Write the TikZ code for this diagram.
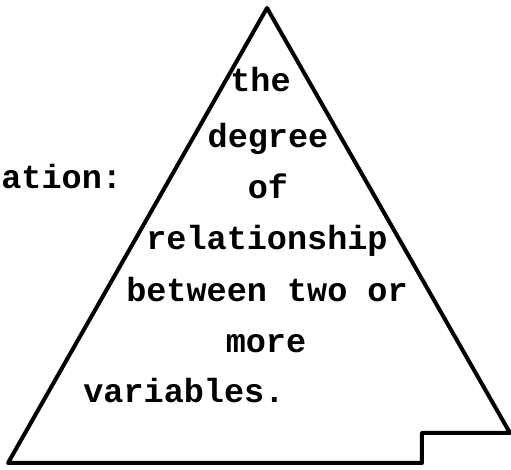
\documentclass[tikz,border=0pt]{standalone}
\usepackage{fontspec}
\setmonofont{Liberation Mono}
\begin{document}
\begin{tikzpicture}
% pyramid sketch, measured in pixels of the scan
\def\pxsz{0.5pt}
\providecommand{\pyrLineWidth}{2pt}
\providecommand{\pyrFont}{\fontsize{16.75}{20}\ttfamily\bfseries}
\begin{scope}[x=\pxsz, y=\pxsz, line cap=round, line join=round]
  \useasboundingbox (0,0) rectangle (511,470);
  % Corners of the outline
  \coordinate (apex) at (267,462);
  \coordinate (botleft) at (8,7);
  \coordinate (notchbot) at (422,7);
  \coordinate (notchtop) at (422,37);
  \coordinate (botright) at (510,37);
  % Outline
  \draw[line width=\pyrLineWidth] (botleft) -- (apex) -- (botright) -- (notchtop) -- (notchbot) -- cycle;
  % Texts
  \begin{scope}[every node/.style={font=\pyrFont, inner sep=0pt}]
    \node[anchor=base west] (lead) at (1,281) {ation:};
    \node[anchor=base west] (l1) at (230,378) {the};
    \node[anchor=base] (l2) at (268,322) {degree};
    \node[anchor=base] (l3) at (268,271) {of};
    \node[anchor=base] (l4) at (267,220) {relationship};
    \node[anchor=base] (l5) at (267,168) {between two or};
    \node[anchor=base] (l6) at (266,117) {more};
    \node[anchor=base west] (l7) at (83,67) {variables.};
  \end{scope}
\end{scope}
\end{tikzpicture}
\end{document}
